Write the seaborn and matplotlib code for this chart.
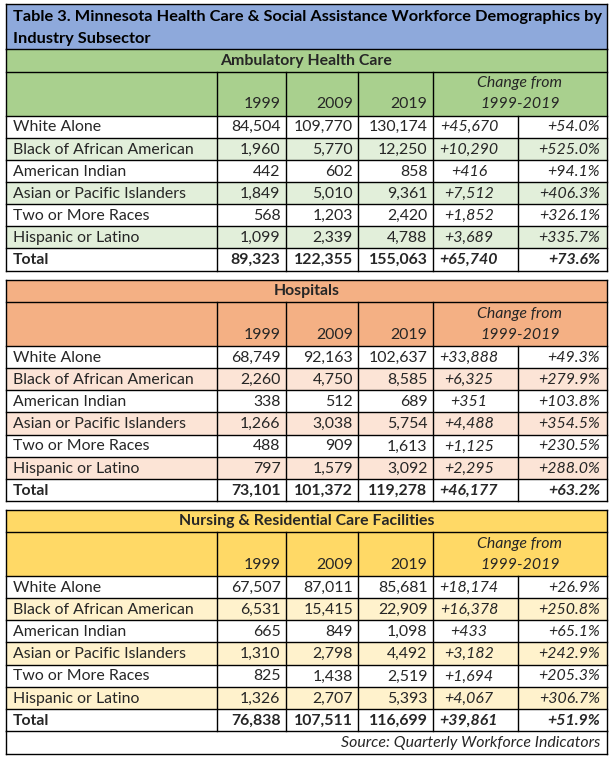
import matplotlib
matplotlib.use("Agg")
import matplotlib.pyplot as plt
from matplotlib.patches import Rectangle
import seaborn as sns

sns.set_theme(style="white")
plt.rcParams['font.family'] = ['Lato', 'DejaVu Sans']

# ---------------- data ----------------
title_lines = ["Table 3. Minnesota Health Care & Social Assistance Workforce Demographics by",
               "Industry Subsector"]
sections = ["Ambulatory Health Care", "Hospitals", "Nursing & Residential Care Facilities"]
years = ["1999", "2009", "2019"]
change_label = ["Change from", "1999-2019"]
groups = ["White Alone", "Black of African American", "American Indian",
          "Asian or Pacific Islanders", "Two or More Races", "Hispanic or Latino", "Total"]

amb_1999 = [84504, 1960, 442, 1849, 568, 1099, 89323]
amb_2009 = [109770, 5770, 602, 5010, 1203, 2339, 122355]
amb_2019 = [130174, 12250, 858, 9361, 2420, 4788, 155063]
amb_chg = [45670, 10290, 416, 7512, 1852, 3689, 65740]
amb_pct = [54.0, 525.0, 94.1, 406.3, 326.1, 335.7, 73.6]

hos_1999 = [68749, 2260, 338, 1266, 488, 797, 73101]
hos_2009 = [92163, 4750, 512, 3038, 909, 1579, 101372]
hos_2019 = [102637, 8585, 689, 5754, 1613, 3092, 119278]
hos_chg = [33888, 6325, 351, 4488, 1125, 2295, 46177]
hos_pct = [49.3, 279.9, 103.8, 354.5, 230.5, 288.0, 63.2]

nur_1999 = [67507, 6531, 665, 1310, 825, 1326, 76838]
nur_2009 = [87011, 15415, 849, 2798, 1438, 2707, 107511]
nur_2019 = [85681, 22909, 1098, 4492, 2519, 5393, 116699]
nur_chg = [18174, 16378, 433, 3182, 1694, 4067, 39861]
nur_pct = [26.9, 250.8, 65.1, 242.9, 205.3, 306.7, 51.9]

source_text = "Source: Quarterly Workforce Indicators"

# ---------------- styling / layout ----------------
title_color = "#8EA9DB"
head_colors = ["#A9D08E", "#F4B084", "#FFD966"]
stripe_colors = ["#E2EFDA", "#FCE4D6", "#FFF2CC"]
section_tops = [49, 279.5, 509.5]
xe = [6, 217, 285.5, 358, 432.5, 518, 607]
HDR_H = 22.5
COL_H = 44
ROW_H = 22.15
FS = 11.4
TFS = 11.8
LW = 1.0

fig = plt.figure(figsize=(6.13, 7.58), dpi=100)
ax = fig.add_axes([0, 0, 1, 1])
ax.set_xlim(0, 613)
ax.set_ylim(758, 0)
ax.axis('off')

def rect(x0, y0, x1, y1, fc):
    ax.add_patch(Rectangle((x0, y0), x1 - x0, y1 - y0, facecolor=fc,
                           edgecolor='none', linewidth=0, zorder=1))

def hline(y, x0, x1):
    ax.plot([x0, x1], [y, y], color='black', lw=LW, zorder=3, solid_capstyle='projecting')

def vline(x, y0, y1):
    ax.plot([x, x], [y0, y1], color='black', lw=LW, zorder=3, solid_capstyle='projecting')

# Title
rect(xe[0], 4, xe[-1], section_tops[0], title_color)
ax.text(13, 17, title_lines[0], fontsize=TFS, fontweight='bold', va='center', ha='left', color='black')
ax.text(13, 38.5, title_lines[1], fontsize=TFS, fontweight='bold', va='center', ha='left', color='black')
vline(xe[0], 4, section_tops[0]); vline(xe[-1], 4, section_tops[0]); hline(4, xe[0], xe[-1])

data = [
    (amb_1999, amb_2009, amb_2019, amb_chg, amb_pct),
    (hos_1999, hos_2009, hos_2019, hos_chg, hos_pct),
    (nur_1999, nur_2009, nur_2019, nur_chg, nur_pct),
]

for s, (name, top) in enumerate(zip(sections, section_tops)):
    hc, sc = head_colors[s], stripe_colors[s]
    # section header row
    rect(xe[0], top, xe[-1], top + HDR_H, hc)
    ax.text((xe[0] + xe[-1]) / 2, top + HDR_H / 2 + 0.5, name, fontsize=FS, fontweight='bold',
            ha='center', va='center')
    # column header row
    ct = top + HDR_H
    cb = ct + COL_H
    rect(xe[0], ct, xe[-1], cb, hc)
    for j, yr in enumerate(years):
        ax.text(xe[j + 2] - 5, cb - 11, yr, fontsize=FS, ha='right', va='center')
    ax.text((xe[4] + xe[6]) / 2, ct + 12, change_label[0], fontsize=FS, style='italic', ha='center', va='center')
    ax.text((xe[4] + xe[6]) / 2, cb - 11, change_label[1], fontsize=FS, style='italic', ha='center', va='center')
    # body rows
    y1999, y2009, y2019, chg, pct = data[s]
    for i, g in enumerate(groups):
        r0 = cb + i * ROW_H
        r1 = r0 + ROW_H
        rect(xe[0], r0, xe[-1], r1, sc if i % 2 == 1 else "white")
        bold = 'bold' if g == "Total" else 'normal'
        yc = (r0 + r1) / 2 + 0.8
        ax.text(13, yc, g, fontsize=FS, fontweight=bold, ha='left', va='center')
        for j, vals in enumerate([y1999, y2009, y2019]):
            ax.text(xe[j + 2] - 5, yc, f"{vals[i]:,}", fontsize=FS, fontweight=bold, ha='right', va='center')
        ax.text(469, yc, f"+{chg[i]:,}", fontsize=FS, fontweight=bold, style='italic', ha='center', va='center')
        ax.text(600, yc, f"+{pct[i]:.1f}%", fontsize=FS, fontweight=bold, style='italic', ha='right', va='center')
        hline(r0, xe[0], xe[-1])
    bottom = cb + len(groups) * ROW_H
    # grid lines
    hline(top, xe[0], xe[-1])
    hline(ct, xe[0], xe[-1])
    hline(bottom, xe[0], xe[-1])
    vline(xe[0], top, bottom)
    vline(xe[-1], top, bottom)
    for x in xe[1:5]:
        vline(x, ct, bottom)
    vline(xe[5], cb, bottom)

# Source row
src_top = section_tops[2] + HDR_H + COL_H + len(groups) * ROW_H
src_bot = src_top + 22.5
rect(xe[0], src_top, xe[-1], src_bot, "white")
ax.text(600, (src_top + src_bot) / 2 + 0.8, source_text, fontsize=FS, style='italic', ha='right', va='center')
hline(src_bot, xe[0], xe[-1])
vline(xe[0], src_top, src_bot)
vline(xe[-1], src_top, src_bot)

fig.savefig("out.png", dpi=100, facecolor="white")
